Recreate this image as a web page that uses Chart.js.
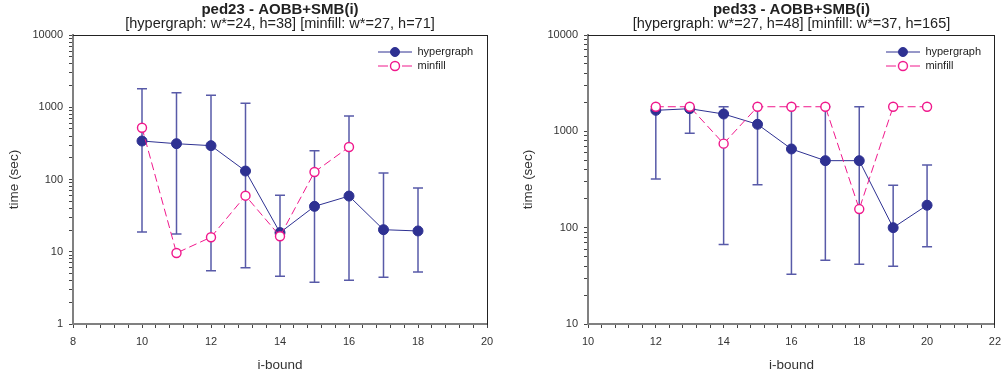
<!DOCTYPE html>
<html>
<head>
<meta charset="utf-8">
<script src="https://cdn.jsdelivr.net/npm/chart.js@4.4.0/dist/chart.umd.min.js"></script>
<style>
  html, body { margin: 0; padding: 0; background: #fff; overflow: hidden; }
  .panel { position: absolute; top: 0; width: 504px; height: 377px; }
</style>
</head>
<body>
<div class="panel" style="left:0"><canvas id="ped23" width="504" height="377"></canvas></div>
<div class="panel" style="left:504px"><canvas id="ped33" width="504" height="377"></canvas></div>
<script>
// ped23
const ped23Bounds = [10, 11, 12, 13, 14, 15, 16, 17, 18];
const ped23Hyper = [341, 313, 294, 131, 18.4, 42.5, 59, 20.2, 19.4];
const ped23HyperHi = [1806, 1590, 1463, 1133, 60.4, 250, 757, 123, 76.3];
const ped23HyperLo = [18.8, 17.6, 5.47, 6.0, 4.57, 3.78, 4.03, 4.43, 5.25];
const ped23MinBounds = [10, 11, 12, 13, 14, 15, 16];
const ped23Minfill = [521, 9.6, 15.9, 59.7, 16.4, 127, 282];

// ped33
const ped33Bounds = [12, 13, 14, 15, 16, 17, 18, 19, 20];
const ped33Hyper = [1652, 1718, 1513, 1183, 656, 496, 496, 100, 171];
const ped33HyperHi = [1800, 1800, 1800, 1800, 1800, 1800, 1800, 275, 447];
const ped33HyperLo = [320, 953, 67, 279, 32.8, 45.8, 41.7, 39.7, 63.4];
const ped33MinBounds = [12, 13, 14, 15, 16, 17, 18, 19, 20];
const ped33Minfill = [1800, 1800, 745, 1800, 1800, 1800, 156, 1800, 1800];

const NAVY = '#2e3192';
const PINK = '#f0188c';
const FONT = "'Liberation Sans', Arial, sans-serif";

Chart.defaults.font.family = FONT;

function isPow10(v) {
  const l = Math.log10(v);
  return Math.abs(l - Math.round(l)) < 1e-9;
}

// little line + marker picture for the legend
function legendIcon(color, filled, dashed) {
  const c = document.createElement('canvas');
  c.width = 34; c.height = 12;
  const g = c.getContext('2d');
  g.strokeStyle = color;
  g.lineWidth = 1;
  g.beginPath();
  if (dashed) {
    g.moveTo(0, 6); g.lineTo(10, 6);
    g.moveTo(24, 6); g.lineTo(34, 6);
  } else {
    g.moveTo(0, 6); g.lineTo(34, 6);
  }
  g.stroke();
  g.beginPath();
  g.arc(17, 6, 4.5, 0, Math.PI * 2);
  g.fillStyle = filled ? color : '#fff';
  g.fill();
  g.lineWidth = filled ? 1 : 1.4;
  g.stroke();
  return c;
}

function errorBars(xs, lo, hi) {
  return {
    id: 'errorBars',
    beforeDatasetsDraw(chart) {
      const { ctx, scales: { x, y } } = chart;
      ctx.save();
      ctx.strokeStyle = 'rgba(46,49,146,0.8)';
      ctx.lineWidth = 1.5;
      xs.forEach((v, i) => {
        const px = x.getPixelForValue(v);
        const top = y.getPixelForValue(hi[i]);
        const bot = y.getPixelForValue(lo[i]);
        ctx.beginPath();
        ctx.moveTo(px, top); ctx.lineTo(px, bot);
        ctx.moveTo(px - 5, top); ctx.lineTo(px + 5, top);
        ctx.moveTo(px - 5, bot); ctx.lineTo(px + 5, bot);
        ctx.stroke();
      });
      ctx.restore();
    }
  };
}

function titles(main, sub) {
  return {
    id: 'titles',
    afterDraw(chart) {
      const { ctx, chartArea } = chart;
      const cx = (chartArea.left + chartArea.right) / 2;
      ctx.save();
      ctx.fillStyle = '#222';
      ctx.textAlign = 'center';
      ctx.textBaseline = 'middle';
      ctx.font = 'bold 15px ' + FONT;
      ctx.fillText(main, cx, 10);
      ctx.font = '14.5px ' + FONT;
      ctx.fillText(sub, cx, 23.5);
      ctx.restore();
    }
  };
}

// put the legend in the top right corner of the plot
const legendSpot = {
  id: 'legendSpot',
  afterLayout(chart) {
    const lg = chart.legend;
    const a = chart.chartArea;
    lg.left = a.right - 112;
    lg.right = lg.left + lg.width;
    lg.top = a.top + 8.5;
    lg.bottom = lg.top + lg.height;
  }
};

function makeChart(id, cfg) {
  new Chart(document.getElementById(id), {
    type: 'line',
    data: {
      datasets: [
        {
          label: 'hypergraph',
          data: cfg.bounds.map((b, i) => ({ x: b, y: cfg.hyper[i] })),
          borderColor: NAVY,
          backgroundColor: NAVY,
          borderWidth: 1,
          pointRadius: 5,
          pointBackgroundColor: NAVY,
          pointBorderColor: NAVY,
          pointBorderWidth: 1,
          order: 2
        },
        {
          label: 'minfill',
          data: cfg.minBounds.map((b, i) => ({ x: b, y: cfg.minfill[i] })),
          borderColor: PINK,
          backgroundColor: '#fff',
          borderWidth: 1,
          borderDash: [8, 4],
          pointRadius: 4.5,
          pointBackgroundColor: '#fff',
          pointBorderColor: PINK,
          pointBorderWidth: 1.4,
          order: 1
        }
      ]
    },
    options: {
      responsive: false,
      animation: false,
      events: [],
      layout: { padding: { top: 35, right: cfg.padRight, bottom: 0, left: 0 } },
      scales: {
        x: {
          type: 'linear',
          position: 'bottom',
          min: cfg.xMin,
          max: cfg.xMax,
          afterFit: s => { s.height = 53; },
          grid: { drawOnChartArea: false, tickLength: 4, color: '#444' },
          border: { color: '#808080', width: 2 },
          ticks: {
            stepSize: 0.4,
            autoSkip: false,
            maxRotation: 0,
            padding: 7,
            color: '#333',
            font: { size: 11 },
            callback: v => {
              const r = Math.round(v);
              return Math.abs(v - r) < 1e-6 && r % 2 === 0 ? String(r) : '';
            }
          },
          title: { display: true, text: 'i-bound', color: '#333', font: { size: 13.5 }, padding: { top: 0, bottom: 4 } }
        },
        y: {
          type: 'logarithmic',
          position: 'left',
          min: cfg.yMin,
          max: cfg.yMax,
          afterFit: s => { s.width = cfg.axisWidth; },
          afterBuildTicks: s => {
            s.ticks = s.ticks.filter(t => {
              const e = Math.floor(Math.log10(t.value) + 1e-9);
              const m = t.value / Math.pow(10, e);
              return Math.abs(m - Math.round(m)) < 1e-6;
            });
          },
          grid: { drawOnChartArea: false, tickLength: 4, color: '#444' },
          border: { color: '#808080', width: 2 },
          ticks: {
            autoSkip: false,
            padding: 6,
            color: '#333',
            font: { size: 11 },
            callback: v => isPow10(v) ? String(v) : ''
          },
          title: { display: true, text: 'time (sec)', color: '#333', font: { size: 13.5 }, padding: { top: cfg.yTitlePad, bottom: 0 } }
        },
        x2: {
          type: 'linear',
          position: 'top',
          display: true,
          afterFit: s => { s.height = 0; },
          grid: { display: false, drawTicks: false },
          ticks: { display: false },
          border: { color: '#222', width: 1 }
        },
        y2: {
          type: 'linear',
          position: 'right',
          display: true,
          afterFit: s => { s.width = 0; },
          grid: { display: false, drawTicks: false },
          ticks: { display: false },
          border: { color: '#222', width: 1 }
        }
      },
      plugins: {
        title: { display: false },
        tooltip: { enabled: false },
        legend: {
          position: 'chartArea',
          align: 'start',
          labels: {
            usePointStyle: true,
            pointStyleWidth: 34,
            padding: 3,
            color: '#222',
            font: { size: 11 },
            generateLabels: chart => chart.data.datasets.map((ds, i) => ({
              text: ds.label,
              datasetIndex: i,
              hidden: false,
              lineWidth: 0,
              fillStyle: ds.pointBackgroundColor,
              strokeStyle: ds.borderColor,
              fontColor: '#222',
              pointStyle: legendIcon(ds.borderColor, i === 0, i === 1)
            }))
          }
        }
      }
    },
    plugins: [errorBars(cfg.bounds, cfg.hyperLo, cfg.hyperHi), titles(cfg.title, cfg.subtitle), legendSpot]
  });
}

makeChart('ped23', {
  title: 'ped23 - AOBB+SMB(i)',
  subtitle: '[hypergraph: w*=24, h=38] [minfill: w*=27, h=71]',
  bounds: ped23Bounds, hyper: ped23Hyper, hyperHi: ped23HyperHi, hyperLo: ped23HyperLo,
  minBounds: ped23MinBounds, minfill: ped23Minfill,
  xMin: 8, xMax: 20, yMin: 1, yMax: 10000,
  axisWidth: 73, yTitlePad: 6, padRight: 17
});

makeChart('ped33', {
  title: 'ped33 - AOBB+SMB(i)',
  subtitle: '[hypergraph: w*=27, h=48] [minfill: w*=37, h=165]',
  bounds: ped33Bounds, hyper: ped33Hyper, hyperHi: ped33HyperHi, hyperLo: ped33HyperLo,
  minBounds: ped33MinBounds, minfill: ped33Minfill,
  xMin: 10, xMax: 22, yMin: 10, yMax: 10000,
  axisWidth: 84, yTitlePad: 16, padRight: 7
});
</script>
</body>
</html>
